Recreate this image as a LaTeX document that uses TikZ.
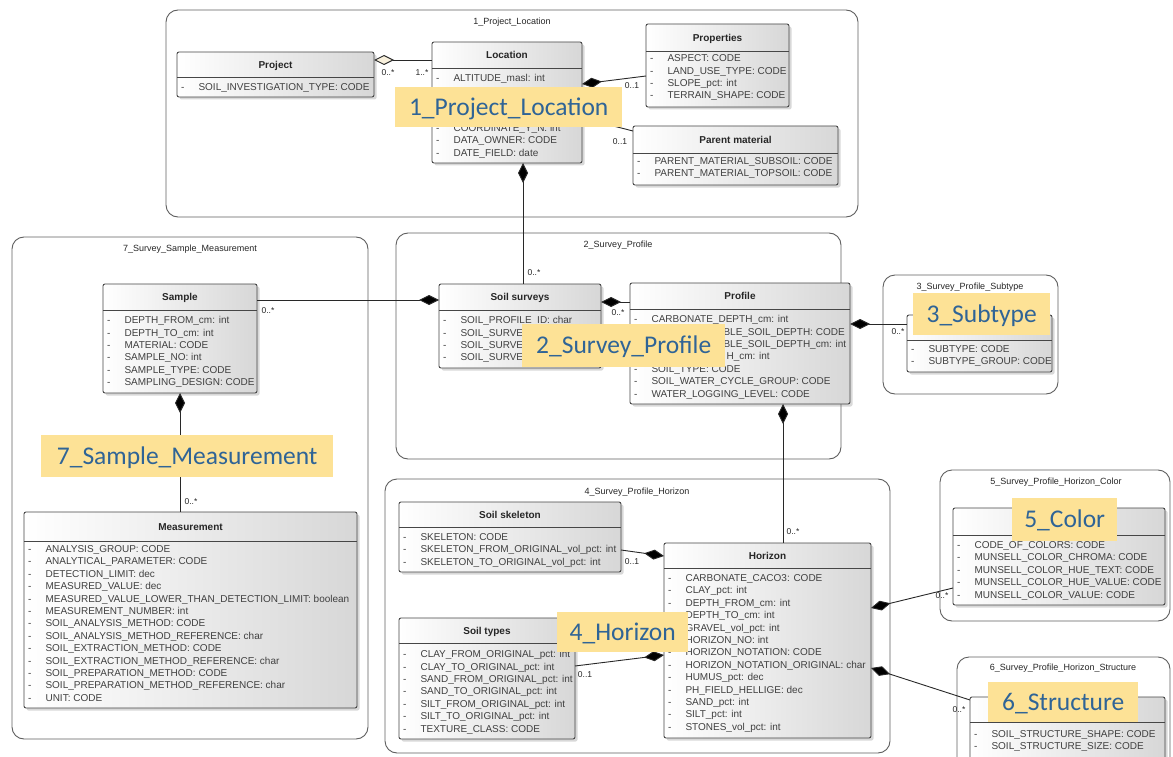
\documentclass[tikz,border=0pt]{standalone}
\usepackage{fontspec}
\usepackage{xcolor}
\usetikzlibrary{arrows.meta,shadows}
\newfontfamily\umlfont{Liberation Sans}
\newfontfamily\notefont{Carlito}
\definecolor{pkgline}{RGB}{95,95,95}
\definecolor{boxline}{RGB}{70,70,70}
\definecolor{boxshade}{RGB}{215,215,215}
\definecolor{attrtext}{RGB}{64,64,64}
\definecolor{assoc}{RGB}{40,40,40}
\definecolor{hollow}{RGB}{248,240,220}
\definecolor{notebg}{RGB}{253,226,150}
\definecolor{notetext}{RGB}{47,100,150}
\newcommand{\umlattr}{-\hspace{14pt}}
\tikzstyle{package}=[draw=pkgline, line width=0.9pt, rounded corners=12pt, fill=white, anchor=north west, inner sep=0pt, outer sep=0pt]
\tikzstyle{pkgtitle}=[font=\umlfont\fontsize{9}{10}\selectfont, text=black!85, inner sep=0pt]
\tikzstyle{classbox}=[draw=boxline, line width=0.9pt, rounded corners=2pt, left color=white, right color=boxshade, drop shadow={opacity=0.3,shadow xshift=2.5pt,shadow yshift=-2.5pt}, anchor=north west, inner sep=0pt, outer sep=0pt]
\tikzstyle{classtitle}=[font=\umlfont\bfseries\fontsize{10}{12}\selectfont, text=black!85, inner sep=0pt, text height=7.2pt, text depth=0pt]
\tikzstyle{classrows}=[font=\umlfont\fontsize{10}{12.4}\selectfont, text=attrtext, align=left, anchor=north west, inner sep=0pt]
\tikzstyle{divider}=[draw=boxline, line width=0.9pt]
\tikzstyle{mult}=[font=\umlfont\fontsize{8.5}{10}\selectfont, text=black!85, inner sep=0pt]
\tikzstyle{composition}=[draw=assoc, line width=0.9pt, {Diamond[length=20pt,width=10pt,fill=black]}-]
\tikzstyle{aggregation}=[draw=assoc, line width=0.9pt, {Diamond[length=20pt,width=10pt,fill=hollow]}-]
\tikzstyle{note}=[fill=notebg, text=notetext, font=\notefont\fontsize{25.5}{30}\selectfont, anchor=north west, inner sep=0pt, text height=16.4pt, text depth=0pt]

\begin{document}
\begin{tikzpicture}[x=1pt,y=-1pt]
  \useasboundingbox (0,0) rectangle (1173,757);

  %% Packages
  \draw (166,10) node[package,minimum width=692pt,minimum height=207pt] (P1) {};
  \draw (12,237) node[package,minimum width=356pt,minimum height=502pt] (P7) {};
  \draw (396,233) node[package,minimum width=445pt,minimum height=226pt] (P2) {};
  \draw (883,275) node[package,minimum width=175pt,minimum height=119pt] (P3) {};
  \draw (385,479) node[package,minimum width=505pt,minimum height=274pt] (P4) {};
  \draw (940,470) node[package,minimum width=230pt,minimum height=151pt] (P5) {};
  \draw (957,657) node[package,minimum width=213pt,minimum height=130pt] (P6) {};

  \draw (512,22) node[pkgtitle] (P1Title) {1\_Project\_Location};
  \draw (190,249) node[pkgtitle] (P7Title) {7\_Survey\_Sample\_Measurement};
  \draw (618,245) node[pkgtitle] (P2Title) {2\_Survey\_Profile};
  \draw (970,287) node[pkgtitle] (P3Title) {3\_Survey\_Profile\_Subtype};
  \draw (637,492) node[pkgtitle] (P4Title) {4\_Survey\_Profile\_Horizon};
  \draw (1056,482) node[pkgtitle] (P5Title) {5\_Survey\_Profile\_Horizon\_Color};
  \draw (1063,668) node[pkgtitle] (P6Title) {6\_Survey\_Profile\_Horizon\_Structure};

  %% 1_Project_Location
  \draw (177,52) node[classbox,minimum width=197pt,minimum height=45pt] (Project) {};
  \draw[divider] ([yshift=-25pt]Project.north west) -- ([yshift=-25pt]Project.north east);
  \draw ([yshift=-12.5pt]Project.north) node[classtitle] (ProjectTitle) {Project};
  \draw (181,83.3) node[classrows] (ProjectRows) {\umlattr SOIL\_INVESTIGATION\_TYPE: CODE};

  \draw (432,42) node[classbox,minimum width=150pt,minimum height=121pt] (Location) {};
  \draw[divider] ([yshift=-26pt]Location.north west) -- ([yshift=-26pt]Location.north east);
  \draw ([yshift=-13pt]Location.north) node[classtitle] (LocationTitle) {Location};
  \draw (436,74.3) node[classrows] (LocationRows) {\umlattr ALTITUDE\_masl: int\\ \mbox{}\\ \mbox{}\\ \mbox{}\\
    \umlattr COORDINATE\_Y\_N: int\\ \umlattr DATA\_OWNER: CODE\\ \umlattr DATE\_FIELD: date};

  \draw (646,24) node[classbox,minimum width=143pt,minimum height=83pt] (Properties) {};
  \draw[divider] ([yshift=-27pt]Properties.north west) -- ([yshift=-27pt]Properties.north east);
  \draw ([yshift=-13.5pt]Properties.north) node[classtitle] (PropertiesTitle) {Properties};
  \draw (650,54.5) node[classrows] (PropertiesRows) {\umlattr ASPECT: CODE\\ \umlattr LAND\_USE\_TYPE: CODE\\
    \umlattr SLOPE\_pct: int\\ \umlattr TERRAIN\_SHAPE: CODE};

  \draw (633,126) node[classbox,minimum width=205pt,minimum height=59pt] (Parent) {};
  \draw[divider] ([yshift=-27pt]Parent.north west) -- ([yshift=-27pt]Parent.north east);
  \draw ([yshift=-13.5pt]Parent.north) node[classtitle] (ParentTitle) {Parent material};
  \draw (637,157.3) node[classrows] (ParentRows) {\umlattr PARENT\_MATERIAL\_SUBSOIL: CODE\\
    \umlattr PARENT\_MATERIAL\_TOPSOIL: CODE};

  %% 7_Survey_Sample_Measurement
  \draw (103,284) node[classbox,minimum width=154pt,minimum height=109pt] (Sample) {};
  \draw[divider] ([yshift=-26pt]Sample.north west) -- ([yshift=-26pt]Sample.north east);
  \draw ([yshift=-13pt]Sample.north) node[classtitle] (SampleTitle) {Sample};
  \draw (107,316.3) node[classrows] (SampleRows) {\umlattr DEPTH\_FROM\_cm: int\\ \umlattr DEPTH\_TO\_cm: int\\
    \umlattr MATERIAL: CODE\\ \umlattr SAMPLE\_NO: int\\ \umlattr SAMPLE\_TYPE: CODE\\ \umlattr SAMPLING\_DESIGN: CODE};

  \draw (24,512) node[classbox,minimum width=333pt,minimum height=196pt] (Measurement) {};
  \draw[divider] ([yshift=-29pt]Measurement.north west) -- ([yshift=-29pt]Measurement.north east);
  \draw ([yshift=-14.5pt]Measurement.north) node[classtitle] (MeasurementTitle) {Measurement};
  \draw (28,545.3) node[classrows] (MeasurementRows) {\umlattr ANALYSIS\_GROUP: CODE\\
    \umlattr ANALYTICAL\_PARAMETER: CODE\\
    \umlattr DETECTION\_LIMIT: dec\\
    \umlattr MEASURED\_VALUE: dec\\
    \umlattr MEASURED\_VALUE\_LOWER\_THAN\_DETECTION\_LIMIT: boolean\\
    \umlattr MEASUREMENT\_NUMBER: int\\
    \umlattr SOIL\_ANALYSIS\_METHOD: CODE\\
    \umlattr SOIL\_ANALYSIS\_METHOD\_REFERENCE: char\\
    \umlattr SOIL\_EXTRACTION\_METHOD: CODE\\
    \umlattr SOIL\_EXTRACTION\_METHOD\_REFERENCE: char\\
    \umlattr SOIL\_PREPARATION\_METHOD: CODE\\
    \umlattr SOIL\_PREPARATION\_METHOD\_REFERENCE: char\\
    \umlattr UNIT: CODE};

  %% 2_Survey_Profile
  \draw (439,284) node[classbox,minimum width=162pt,minimum height=84pt] (SoilSurveys) {};
  \draw[divider] ([yshift=-26pt]SoilSurveys.north west) -- ([yshift=-26pt]SoilSurveys.north east);
  \draw ([yshift=-13pt]SoilSurveys.north) node[classtitle] (SoilSurveysTitle) {Soil surveys};
  \draw (443,316.3) node[classrows] (SoilSurveysRows) {\umlattr SOIL\_PROFILE\_ID: char\\ \umlattr SOIL\_SURVE\\
    \umlattr SOIL\_SURVE\\ \umlattr SOIL\_SURVE};

  \draw (630,283) node[classbox,minimum width=220pt,minimum height=121pt] (Profile) {};
  \draw[divider] ([yshift=-26pt]Profile.north west) -- ([yshift=-26pt]Profile.north east);
  \draw ([yshift=-13pt]Profile.north) node[classtitle] (ProfileTitle) {Profile};
  \draw (634,315.3) node[classrows] (ProfileRows) {\umlattr CARBONATE\_DEPTH\_cm: int\\
    \umlattr\hspace{72pt}BLE\_SOIL\_DEPTH: CODE\\
    \umlattr\hspace{72pt}BLE\_SOIL\_DEPTH\_cm: int\\
    \umlattr\hspace{75pt}H\_cm: int\\
    \umlattr SOIL\_TYPE: CODE\\
    \umlattr SOIL\_WATER\_CYCLE\_GROUP: CODE\\
    \umlattr WATER\_LOGGING\_LEVEL: CODE};

  %% 3_Survey_Profile_Subtype
  \draw (907,315) node[classbox,minimum width=145pt,minimum height=57pt] (Subtype) {};
  \draw[divider] ([yshift=-25pt]Subtype.north west) -- ([yshift=-25pt]Subtype.north east);
  \draw (911,345.3) node[classrows] (SubtypeRows) {\umlattr SUBTYPE: CODE\\ \umlattr SUBTYPE\_GROUP: CODE};

  %% 4_Survey_Profile_Horizon
  \draw (399,502) node[classbox,minimum width=222pt,minimum height=70pt] (Skeleton) {};
  \draw[divider] ([yshift=-25pt]Skeleton.north west) -- ([yshift=-25pt]Skeleton.north east);
  \draw ([yshift=-12.5pt]Skeleton.north) node[classtitle] (SkeletonTitle) {Soil skeleton};
  \draw (403,533.3) node[classrows] (SkeletonRows) {\umlattr SKELETON: CODE\\
    \umlattr SKELETON\_FROM\_ORIGINAL\_vol\_pct: int\\ \umlattr SKELETON\_TO\_ORIGINAL\_vol\_pct: int};

  \draw (399,618) node[classbox,minimum width=176pt,minimum height=121pt] (SoilTypes) {};
  \draw[divider] ([yshift=-25pt]SoilTypes.north west) -- ([yshift=-25pt]SoilTypes.north east);
  \draw ([yshift=-12.5pt]SoilTypes.north) node[classtitle] (SoilTypesTitle) {Soil types};
  \draw (403,650.3) node[classrows] (SoilTypesRows) {\umlattr CLAY\_FROM\_ORIGINAL\_pct: int\\
    \umlattr CLAY\_TO\_ORIGINAL\_pct: int\\ \umlattr SAND\_FROM\_ORIGINAL\_pct: int\\
    \umlattr SAND\_TO\_ORIGINAL\_pct: int\\ \umlattr SILT\_FROM\_ORIGINAL\_pct: int\\
    \umlattr SILT\_TO\_ORIGINAL\_pct: int\\ \umlattr TEXTURE\_CLASS: CODE};

  \draw (664,543) node[classbox,minimum width=207pt,minimum height=195pt] (Horizon) {};
  \draw[divider] ([yshift=-25pt]Horizon.north west) -- ([yshift=-25pt]Horizon.north east);
  \draw ([yshift=-12.5pt]Horizon.north) node[classtitle] (HorizonTitle) {Horizon};
  \draw (668,574.3) node[classrows] (HorizonRows) {\umlattr CARBONATE\_CACO3: CODE\\
    \umlattr CLAY\_pct: int\\ \umlattr DEPTH\_FROM\_cm: int\\ \umlattr DEPTH\_TO\_cm: int\\
    \umlattr GRAVEL\_vol\_pct: int\\ \umlattr HORIZON\_NO: int\\ \umlattr HORIZON\_NOTATION: CODE\\
    \umlattr HORIZON\_NOTATION\_ORIGINAL: char\\ \umlattr HUMUS\_pct: dec\\
    \umlattr PH\_FIELD\_HELLIGE: dec\\ \umlattr SAND\_pct: int\\ \umlattr SILT\_pct: int\\
    \umlattr STONES\_vol\_pct: int};

  %% 5_Survey_Profile_Horizon_Color
  \draw (953,508) node[classbox,minimum width=212pt,minimum height=97pt] (Color) {};
  \draw[divider] ([yshift=-27pt]Color.north west) -- ([yshift=-27pt]Color.north east);
  \draw (957,541.3) node[classrows] (ColorRows) {\umlattr CODE\_OF\_COLORS: CODE\\
    \umlattr MUNSELL\_COLOR\_CHROMA: CODE\\ \umlattr MUNSELL\_COLOR\_HUE\_TEXT: CODE\\
    \umlattr MUNSELL\_COLOR\_HUE\_VALUE: CODE\\ \umlattr MUNSELL\_COLOR\_VALUE: CODE};

  %% 6_Survey_Profile_Horizon_Structure
  \draw (970,697) node[classbox,minimum width=195pt,minimum height=75pt] (Structure) {};
  \draw[divider] ([yshift=-25pt]Structure.north west) -- ([yshift=-25pt]Structure.north east);
  \draw (974,730.3) node[classrows] (StructureRows) {\umlattr SOIL\_STRUCTURE\_SHAPE: CODE\\
    \umlattr SOIL\_STRUCTURE\_SIZE: CODE};

  %% Associations
  \draw[aggregation] ([yshift=-8pt]Project.north east) -- ([yshift=-18pt]Location.north west);
  \draw[composition] ([yshift=-42pt]Location.north east) -- ([yshift=-52pt]Properties.north west);
  \draw[composition] ([yshift=-76pt]Location.north east) -- ([yshift=-5pt]Parent.north west);
  \draw[composition] ([xshift=16pt]Location.south) -- ([xshift=16pt]Location.south |- SoilSurveys.north);
  \draw[composition] ([yshift=-16pt]SoilSurveys.north west) -- ([yshift=-16pt]SoilSurveys.north west -| Sample.east);
  \draw[composition] (Sample.south) -- (Sample.south |- Measurement.north);
  \draw[composition] ([yshift=-18pt]SoilSurveys.north east) -- ([yshift=-18pt]SoilSurveys.north east -| Profile.west);
  \draw[composition] ([yshift=-41pt]Profile.north east) -- ([yshift=-41pt]Profile.north east -| Subtype.west);
  \draw[composition] ([xshift=43pt]Profile.south) -- ([xshift=43pt]Profile.south |- Horizon.north);
  \draw[composition] ([yshift=-13pt]Horizon.north west) -- ([yshift=-48pt]Skeleton.north east);
  \draw[composition] ([yshift=-112pt]Horizon.north west) -- ([yshift=-48pt]SoilTypes.north east);
  \draw[composition] ([yshift=-65pt]Horizon.north east) -- ([yshift=-80pt]Color.north west);
  \draw[composition] ([yshift=-125pt]Horizon.north east) -- ([yshift=-3pt]Structure.north west);

  %% Multiplicities
  \draw (388,73) node[mult] (mProject) {0..*};
  \draw (422,73) node[mult] (mLocation) {1..*};
  \draw (632,86) node[mult] (mProperties) {0..1};
  \draw (620,142) node[mult] (mParent) {0..1};
  \draw (534,273) node[mult] (mSurveysTop) {0..*};
  \draw (268,311) node[mult] (mSample) {0..*};
  \draw (191,502) node[mult] (mMeasurement) {0..*};
  \draw (618,313) node[mult] (mProfile) {0..*};
  \draw (898,332) node[mult] (mSubtype) {0..*};
  \draw (793,532) node[mult] (mHorizon) {0..*};
  \draw (632,562) node[mult] (mSkeleton) {0..1};
  \draw (585,675) node[mult] (mSoilTypes) {0..1};
  \draw (942,596) node[mult] (mColor) {0..*};
  \draw (959,710) node[mult] (mStructure) {0..*};

  %% Overlay labels
  \draw (395,87) node[note,minimum width=227pt,minimum height=40pt] (Note1) {1\_Project\_Location};
  \draw (41,435) node[note,minimum width=292pt,minimum height=42pt] (Note7) {7\_Sample\_Measurement};
  \draw (522,324) node[note,minimum width=203pt,minimum height=43pt] (Note2) {2\_Survey\_Profile};
  \draw (913,293) node[note,minimum width=137pt,minimum height=42pt] (Note3) {3\_Subtype};
  \draw (557,612) node[note,minimum width=131pt,minimum height=40pt] (Note4) {4\_Horizon};
  \draw (1012,498) node[note,minimum width=105pt,minimum height=43pt] (Note5) {5\_Color};
  \draw (988,682) node[note,minimum width=150pt,minimum height=40pt] (Note6) {6\_Structure};
\end{tikzpicture}
\end{document}
